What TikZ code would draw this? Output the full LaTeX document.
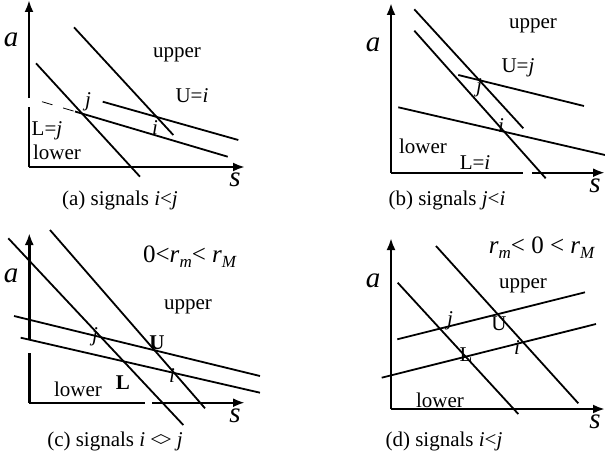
\documentclass[tikz,border=0pt]{standalone}
\usepackage{fontspec}
\setmainfont{Liberation Serif}
\usetikzlibrary{arrows.meta}
\newcommand\subl[1]{\raisebox{-0.45ex}{\fontsize{17}{17}\selectfont\textit{#1}}}
\tikzset{
  axis/.style={line width=2.4pt,-{Latex[length=12pt,width=9pt]}},
  axisplain/.style={line width=2.4pt},
  ln/.style={line width=1.8pt},
  lbl/.style={font=\fontsize{21}{24}\selectfont,inner sep=0pt},
  rlbl/.style={font=\fontsize{25}{28}\selectfont,inner sep=0pt},
  big/.style={font=\fontsize{29}{30}\selectfont\itshape,inner sep=0pt},
  captxt/.style={font=\fontsize{21}{24}\selectfont,inner sep=0pt}
}
\begin{document}
\begin{tikzpicture}[x=1pt,y=-1pt]
\useasboundingbox (0,0) rectangle (605,460);
% ---------- panel (a)
\coordinate (aO) at (29,167);
\draw[axisplain] (aO) -- (29,107);
\draw[axis] (29,98) -- (29,0);
\draw[axis] (aO) -- (245,167);
\draw[ln] (74,27.3) -- (173.3,135);
\draw[ln] (36,63.3) -- (140,176.7);
\draw[ln] (102.7,101.7) -- (238.3,140);
\draw[line width=0.8pt,dash pattern=on 11pt off 11pt] (42,101.7) -- (75,111.5);
\draw[ln] (75,111.5) -- (227.7,156.7);
\node[big] (aa) at (11,40) {a};
\node[big] (as) at (235,180) {s};
\node[lbl] (aup) at (177,55) {upper};
\node[lbl] (aU) at (192,96) {U=\textit{i}};
\node[lbl] (aL) at (47,131) {L=\textit{j}};
\node[lbl] (alo) at (57,152) {lower};
\node[lbl] (aj) at (88,102) {\textit{j}};
\node[lbl] (ai) at (155,128) {\textit{i}};
\node[captxt] (acap) at (120,200) {(a) signals \textit{i}<\textit{j}};
% ---------- panel (b)
\coordinate (bO) at (391,172.7);
\draw[axis] (bO) -- (391,3);
\draw[axisplain] (bO) -- (523,172.7);
\draw[axis] (532,172.7) -- (605,172.7);
\draw[ln] (414.3,9.3) -- (523.3,128.3);
\draw[ln] (414.3,30.7) -- (545.7,178.3);
\draw[ln] (458.3,75) -- (584,106);
\draw[ln] (398.3,107.3) -- (605,155);
\node[big] (ba) at (373,45) {a};
\node[big] (bs) at (595,186) {s};
\node[lbl] (bup) at (533,26) {upper};
\node[lbl] (bU) at (518,68) {U=\textit{j}};
\node[lbl] (bj) at (479,88) {\textit{j}};
\node[lbl] (bi) at (501,126) {\textit{i}};
\node[lbl] (blo) at (423,146) {lower};
\node[lbl] (bL) at (475,163) {L=\textit{i}};
\node[captxt] (bcap) at (447,200) {(b) signals \textit{j}<\textit{i}};
% ---------- panel (c)
\coordinate (cO) at (29.3,402.7);
\draw[axisplain] (cO) -- (29.3,353.3);
\draw[axis] (29.3,340) -- (29.3,233);
\draw[axisplain] (cO) -- (145,402.7);
\draw[axis] (152,402.7) -- (245,402.7);
\draw[ln] (8.3,238.3) -- (183.3,425);
\draw[ln] (50,230) -- (205,408.3);
\draw[ln] (14,316) -- (260,376);
\draw[ln] (20.7,337.7) -- (260,392.7);
\node[big] (ca) at (11,276) {a};
\node[big] (cs) at (235,416) {s};
\node[rlbl] (crr) at (190,257) {0<\textit{r}\subl{m}< \textit{r}\subl{M}};
\node[lbl] (cup) at (188,307) {upper};
\node[lbl] (cj) at (95,337) {\textit{j}};
\node[lbl] (cU) at (157,343) {\textbf{U}};
\node[lbl] (ci) at (172,376) {\textit{i}};
\node[lbl] (clo) at (78,389) {lower};
\node[lbl] (cL) at (123,383) {\textbf{L}};
\node[captxt] (ccap) at (115,441) {(c) signals \textit{i} <\kern-0.12em> \textit{j}};
% ---------- panel (d)
\coordinate (dO) at (391,409);
\draw[axis] (dO) -- (391,238);
\draw[axis] (dO) -- (605,409);
\draw[ln] (436,246) -- (578.3,403.3);
\draw[ln] (397.7,282.7) -- (518.3,414);
\draw[ln] (397.3,339.3) -- (585,292.3);
\draw[ln] (381.7,377.7) -- (596,324);
\node[big] (da) at (373,281) {a};
\node[big] (ds) at (595,422) {s};
\node[rlbl] (drr) at (542,248) {\textit{r}\subl{m}< 0 < \textit{r}\subl{M}};
\node[lbl] (dup) at (523,286) {upper};
\node[lbl] (dj) at (450,321) {\textit{j}};
\node[lbl] (dU) at (499,324) {U};
\node[lbl] (dL) at (466,355) {L};
\node[lbl] (di) at (517,348) {\textit{i}};
\node[lbl] (dlo) at (440,400) {lower};
\node[captxt] (dcap) at (444,441) {(d) signals \textit{i}<\textit{j}};
\end{tikzpicture}
\end{document}
